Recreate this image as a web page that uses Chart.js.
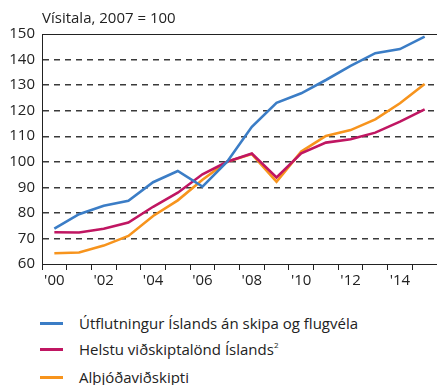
<!DOCTYPE html>
<html>
<head>
<meta charset="utf-8">
<script src="https://cdn.jsdelivr.net/npm/chart.js@4/dist/chart.umd.min.js"></script>
<style>
  html, body { margin: 0; padding: 0; background: #fff; }
  #wrap { position: relative; width: 437px; height: 385px; overflow: hidden; font-family: "Open Sans", sans-serif; color: #222; }
  #chartBox { position: absolute; left: 0; top: 0; width: 437px; height: 300px; }
  .legend-item { position: absolute; left: 40px; height: 20px; display: flex; align-items: center; font-size: 15px; white-space: nowrap; }
  .legend-item .swatch { width: 23px; height: 3px; margin-right: 16px; }
  .legend-item sup { font-size: 8px; vertical-align: 7px; }
</style>
</head>
<body>
<div id="wrap">
  <div id="chartBox"><canvas id="indexChart"></canvas></div>
  <div id="legend"></div>
</div>
<script>
const years = [2000, 2001, 2002, 2003, 2004, 2005, 2006, 2007, 2008, 2009, 2010, 2011, 2012, 2013, 2014, 2015];
const exportsIceland = [73.8, 79.5, 82.8, 84.7, 92, 96.4, 90.3, 100, 113.7, 123.1, 126.8, 132, 137.5, 142.5, 144.1, 149];
const tradingPartners = [72.4, 72.3, 73.8, 76.2, 82.4, 87.9, 95.1, 100, 103.2, 93.9, 103.3, 107.5, 108.8, 111.4, 115.7, 120.5];
const worldTrade = [64.2, 64.5, 67.2, 71, 78.8, 84.9, 93, 100, 103, 92.2, 104, 110.1, 112.4, 116.6, 122.9, 130.4];
const yTicks = [60, 70, 80, 90, 100, 110, 120, 130, 140, 150];

const seriesNames = [
    "Útflutningur Íslands án skipa og flugvéla",
    "Helstu viðskiptalönd Íslands",
    "Alþjóðaviðskipti",
];
const seriesColors = ["#3b7dc6", "#c01662", "#f7941d"];

const FONT = '"Open Sans", sans-serif';

// title above the plot and the solid top frame line
const frame = {
    id: "frame",
    afterDraw(chart) {
        const { ctx, chartArea } = chart;
        ctx.save();
        ctx.strokeStyle = "#222";
        ctx.lineWidth = 1;
        ctx.beginPath();
        ctx.moveTo(chartArea.left, chartArea.top + 0.5);
        ctx.lineTo(chartArea.right, chartArea.top + 0.5);
        ctx.stroke();
        ctx.fillStyle = "#222";
        ctx.font = "15px " + FONT;
        ctx.textBaseline = "middle";
        ctx.fillText("Vísitala, 2007 = 100", chartArea.left, 19);
        ctx.restore();
    },
};

const ctx = document.getElementById("indexChart").getContext("2d");
new Chart(ctx, {
    type: "line",
    data: {
        labels: years,
        datasets: [exportsIceland, tradingPartners, worldTrade].map((values, i) => ({
            label: seriesNames[i],
            data: values,
            borderColor: seriesColors[i],
            backgroundColor: seriesColors[i],
            borderWidth: 2.6,
            pointRadius: 0,
            tension: 0,
        })),
    },
    plugins: [frame],
    options: {
        responsive: true,
        maintainAspectRatio: false,
        animation: false,
        layout: { padding: { top: 34, left: 0, right: 0, bottom: 0 } },
        plugins: {
            legend: { display: false },
            tooltip: { enabled: false },
        },
        scales: {
            x: {
                type: "category",
                offset: true,
                afterFit: (scale) => { scale.height = 36; },
                grid: {
                    offset: true,
                    drawOnChartArea: false,
                    drawTicks: true,
                    tickLength: 6,
                    color: "#222",
                },
                border: { display: true, color: "#222", width: 1 },
                ticks: {
                    autoSkip: false,
                    maxRotation: 0,
                    padding: 2,
                    color: "#222",
                    font: { family: FONT, size: 15 },
                    callback: function (value, index) {
                        const y = years[index];
                        return y % 2 === 0 ? "'" + String(y).slice(2) : "";
                    },
                },
            },
            y: {
                min: 60,
                max: 150,
                afterFit: (scale) => { scale.width = 42; },
                afterBuildTicks: (scale) => { scale.ticks = yTicks.map((v) => ({ value: v })); },
                grid: {
                    drawTicks: false,
                    lineWidth: 1.4,
                    color: (c) => (c.tick && (c.tick.value === 60 || c.tick.value === 150) ? "rgba(0,0,0,0)" : "#3a3a3a"),
                },
                border: { display: true, color: "#222", width: 1, dash: [6, 5] },
                ticks: {
                    padding: 7,
                    color: "#222",
                    font: { family: FONT, size: 15 },
                },
            },
        },
    },
});

// legend stacked in rows under the chart
const legendRows = [313, 339, 367];
const legend = document.getElementById("legend");
seriesNames.forEach((name, i) => {
    const item = document.createElement("div");
    item.className = "legend-item";
    item.style.top = legendRows[i] + "px";
    const swatch = document.createElement("span");
    swatch.className = "swatch";
    swatch.style.background = seriesColors[i];
    item.appendChild(swatch);
    const text = document.createElement("span");
    text.textContent = name;
    if (i === 1) {
        const sup = document.createElement("sup");
        sup.textContent = "2";
        text.appendChild(sup);
    }
    item.appendChild(text);
    legend.appendChild(item);
});
</script>
</body>
</html>
